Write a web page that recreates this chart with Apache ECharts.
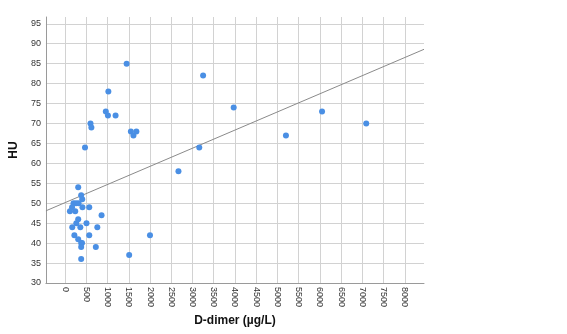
<!DOCTYPE html>
<html>
<head>
<meta charset="utf-8">
<script src="https://cdn.jsdelivr.net/npm/echarts@6/dist/echarts.min.js"></script>
<style>
  html, body { margin: 0; padding: 0; background: #fff; }
  #chart { width: 567px; height: 334px; }
</style>
</head>
<body>
<div id="chart"></div>
<script>
// D-dimer (µg/L) and HU per patient
const dimer = [
  310, 380, 405, 200, 260, 320, 165, 410, 570, 115, 240, 860, 310, 265, 505,
  170, 360, 760, 220, 570, 310, 380, 400, 380, 725, 380,
  470, 600, 620, 960, 1010, 1020, 1190, 1450, 1550, 1610, 1680, 1510, 2000,
  2670, 3160, 3250, 3970, 5200, 6050, 7090
];
const hu = [
  54, 52, 51, 50, 50, 50, 49, 49, 49, 48, 48, 47, 46, 45, 45,
  44, 44, 44, 42, 42, 41, 40, 40, 39, 39, 36,
  64, 70, 69, 73, 72, 78, 72, 85, 68, 67, 68, 37, 42,
  58, 64, 82, 74, 67, 73, 70
];
// fit line ends at the edges of the plot
const fitX = [-450, 8450];
const fitY = [48.1, 88.6];

const xTicks = [0, 500, 1000, 1500, 2000, 2500, 3000, 3500, 4000, 4500, 5000, 5500, 6000, 6500, 7000, 7500, 8000];
const yTicks = [30, 35, 40, 45, 50, 55, 60, 65, 70, 75, 80, 85, 90, 95];

const chart = echarts.init(document.getElementById("chart"), null, { renderer: "canvas" });
const font = "'Liberation Sans', Arial, sans-serif";
const gridColor = "#d2d2d2";
const axisColor = "#9a9a9a";

chart.setOption({
  animation: false,
  backgroundColor: "#fff",
  grid: { left: 43, right: 143, top: 17, bottom: 51 },
  xAxis: {
    type: "value",
    min: -450,
    max: 8450,
    name: "D-dimer (µg/L)",
    nameLocation: "middle",
    nameGap: 32,
    nameTextStyle: { fontFamily: font, fontSize: 12, fontWeight: "bold", color: "#111" },
    axisLine: { show: true, onZero: false, lineStyle: { color: axisColor } },
    axisTick: { show: false, customValues: xTicks },
    axisLabel: {
      customValues: xTicks,
      rotate: -90,
      margin: 4,
      fontFamily: font,
      fontSize: 9,
      color: "#333",
      formatter: (v) => String(v)
    },
    splitLine: { show: true, lineStyle: { color: gridColor, width: 1 } }
  },
  yAxis: {
    type: "value",
    min: 30,
    max: 96.7,
    name: "HU",
    nameLocation: "middle",
    nameGap: 22,
    nameRotate: 90,
    nameTextStyle: { fontFamily: font, fontSize: 12, fontWeight: "bold", color: "#111" },
    axisLine: { show: true, onZero: false, lineStyle: { color: axisColor } },
    axisTick: { show: false, customValues: yTicks },
    axisLabel: {
      customValues: yTicks,
      margin: 5,
      fontFamily: font,
      fontSize: 9,
      color: "#333",
      formatter: (v) => String(v)
    },
    splitLine: { show: true, lineStyle: { color: gridColor, width: 1 } }
  },
  series: [
    {
      name: "Fit",
      type: "line",
      data: fitX.map((x, i) => [x, fitY[i]]),
      showSymbol: false,
      silent: true,
      lineStyle: { color: "#8a8a8a", width: 1 },
      z: 1
    },
    {
      name: "HU",
      type: "scatter",
      data: dimer.map((x, i) => [x, hu[i]]),
      symbolSize: 6,
      itemStyle: { color: "#4a8fe4", opacity: 1 },
      z: 2
    }
  ]
});
</script>
</body>
</html>
